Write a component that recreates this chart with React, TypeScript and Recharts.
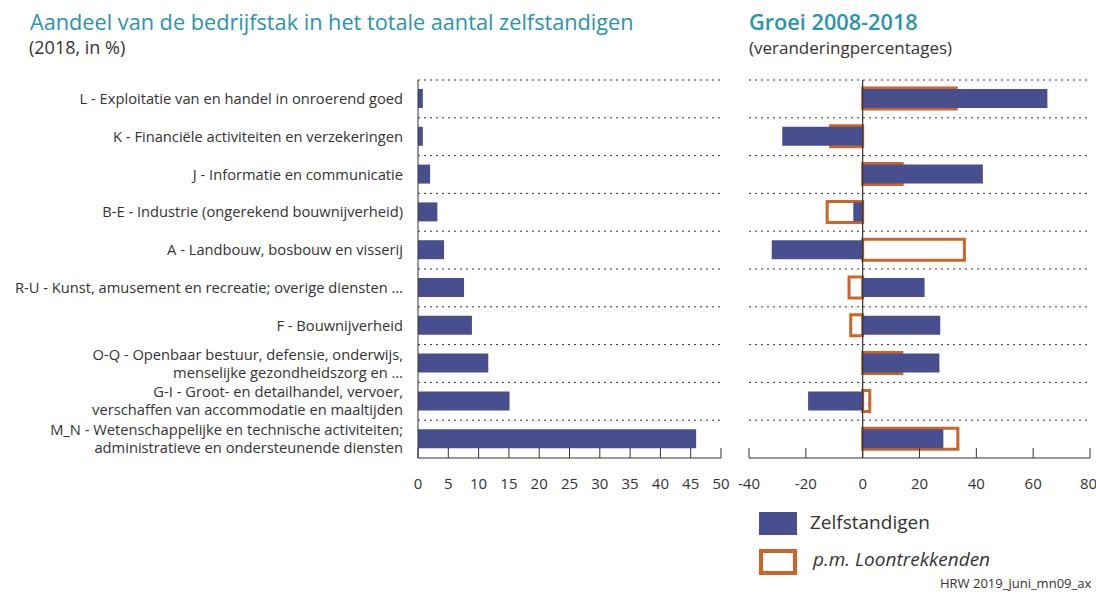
import { Bar, BarChart, CartesianGrid, ReferenceLine, XAxis, YAxis } from "recharts";

const sectors = [
  "L - Exploitatie van en handel in onroerend goed",
  "K - Financiële activiteiten en verzekeringen",
  "J - Informatie en communicatie",
  "B-E - Industrie (ongerekend bouwnijverheid)",
  "A - Landbouw, bosbouw en visserij",
  "R-U - Kunst, amusement en recreatie; overige diensten …",
  "F - Bouwnijverheid",
  "O-Q - Openbaar bestuur, defensie, onderwijs,\nmenselijke gezondheidszorg en …",
  "G-I - Groot- en detailhandel, vervoer,\nverschaffen van accommodatie en maaltijden",
  "M_N - Wetenschappelijke en technische activiteiten;\nadministratieve en ondersteunende diensten",
];

// aandeel in totaal aantal zelfstandigen, 2018 (%)
const share2018 = [0.8, 0.8, 2.0, 3.2, 4.3, 7.6, 8.9, 11.6, 15.1, 45.9];

// groei 2008-2018 (%)
const growthSelfEmployed = [65, -28.3, 42.3, -3.3, -32, 21.8, 27.3, 27, -19.2, 28.4];
const growthEmployees = [32.9, -11.3, 13.9, -12.5, 35.8, -4.8, -4.2, 13.8, 2.5, 33.5];

const shareTicks = [0, 5, 10, 15, 20, 25, 30, 35, 40, 45, 50];
const growthTicks = [-40, -20, 0, 20, 40, 60, 80];

const BLUE = "#474f8e";
const ORANGE = "#cc6529";
const TEAL = "#2a93ad";
const INK = "#333";
const FONT = "'Open Sans', sans-serif";

const shareData = sectors.map((sector, i) => ({ sector, share: share2018[i] }));
const growthData = sectors.map((sector, i) => ({
  sector,
  self: growthSelfEmployed[i],
  employees: growthEmployees[i],
}));

// dotted lines on the boundaries between the categories
const bandLines = ({ offset }: any) =>
  sectors.map((_, i) => offset.top + (i * offset.height) / sectors.length);

const SectorTick = ({ x, y, payload }: any) => {
  const lines = String(payload.value).split("\n");
  const lh = 18;
  return (
    <text x={x} y={y} textAnchor="end" fill={INK} fontSize={14.7} fontFamily={FONT}>
      {lines.map((line, i) => (
        <tspan key={i} x={x} dy={i === 0 ? 5 - ((lines.length - 1) * lh) / 2 : lh}>
          {line}
        </tspan>
      ))}
    </text>
  );
};

const axisTick = { fill: INK, fontSize: 15, fontFamily: FONT };

const ShareChart = () => (
  <BarChart
    width={740}
    height={520}
    data={shareData}
    layout="vertical"
    margin={{ top: 80, right: 19, bottom: 22, left: 0 }}
  >
    <CartesianGrid
      vertical={false}
      stroke={INK}
      strokeDasharray="2 4"
      horizontalCoordinatesGenerator={bandLines}
    />
    <XAxis
      type="number"
      domain={[0, 50]}
      ticks={shareTicks}
      height={40}
      stroke={INK}
      tickSize={-10}
      tickMargin={30}
      tick={axisTick}
    />
    <YAxis
      type="category"
      dataKey="sector"
      width={418}
      stroke={INK}
      tickLine={false}
      tickSize={0}
      tickMargin={15}
      interval={0}
      tick={<SectorTick />}
    />
    <Bar dataKey="share" fill={BLUE} barSize={19} isAnimationActive={false} />
  </BarChart>
);

const GrowthChart = () => (
  <BarChart
    width={376}
    height={520}
    data={growthData}
    layout="vertical"
    margin={{ top: 80, right: 6, bottom: 22, left: 29 }}
  >
    <CartesianGrid
      vertical={false}
      yAxisId="self"
      stroke={INK}
      strokeDasharray="2 4"
      horizontalCoordinatesGenerator={bandLines}
    />
    <XAxis
      type="number"
      domain={[-40, 80]}
      ticks={growthTicks}
      height={40}
      stroke={INK}
      tickSize={-10}
      tickMargin={30}
      tick={axisTick}
    />
    <YAxis yAxisId="self" type="category" dataKey="sector" hide />
    <YAxis yAxisId="emp" type="category" dataKey="sector" hide />
    <Bar
      yAxisId="emp"
      dataKey="employees"
      fill="#fff"
      stroke={ORANGE}
      strokeWidth={3}
      barSize={21}
      isAnimationActive={false}
    />
    <Bar yAxisId="self" dataKey="self" fill={BLUE} barSize={19} isAnimationActive={false} />
    <ReferenceLine yAxisId="self" x={0} stroke={INK} strokeWidth={1.2} />
  </BarChart>
);

export default function App() {
  return (
    <div
      style={{
        position: "absolute",
        left: 0,
        top: 0,
        width: 1096,
        height: 594,
        background: "#fff",
        fontFamily: FONT,
        color: INK,
        overflow: "hidden",
      }}
    >
      <div style={{ position: "absolute", left: 0, top: 0 }}>
        <ShareChart />
      </div>
      <div style={{ position: "absolute", left: 720, top: 0 }}>
        <GrowthChart />
      </div>

      <div style={{ position: "absolute", left: 30, top: 7, fontSize: 21.7, color: TEAL, whiteSpace: "nowrap" }}>
        Aandeel van de bedrijfstak in het totale aantal zelfstandigen
      </div>
      <div style={{ position: "absolute", left: 29, top: 35, fontSize: 18 }}>(2018, in %)</div>
      <div
        style={{ position: "absolute", left: 749, top: 7, fontSize: 21.7, color: TEAL, fontWeight: 600, whiteSpace: "nowrap" }}
      >
        Groei 2008-2018
      </div>
      <div style={{ position: "absolute", left: 749, top: 36, fontSize: 17 }}>(veranderingpercentages)</div>

      <div style={{ position: "absolute", left: 759, top: 512, width: 38, height: 23, background: BLUE }} />
      <div style={{ position: "absolute", left: 810, top: 509, fontSize: 19 }}>Zelfstandigen</div>
      <div
        style={{
          position: "absolute",
          left: 759,
          top: 549,
          width: 30,
          height: 18,
          border: `4px solid ${ORANGE}`,
        }}
      />
      <div style={{ position: "absolute", left: 813, top: 546, fontSize: 19, fontStyle: "italic" }}>
        p.m. Loontrekkenden
      </div>
      <div style={{ position: "absolute", left: 940, top: 575, fontSize: 13, lineHeight: "16px", whiteSpace: "nowrap" }}>
        HRW 2019_juni_mn09_ax
      </div>
    </div>
  );
}
